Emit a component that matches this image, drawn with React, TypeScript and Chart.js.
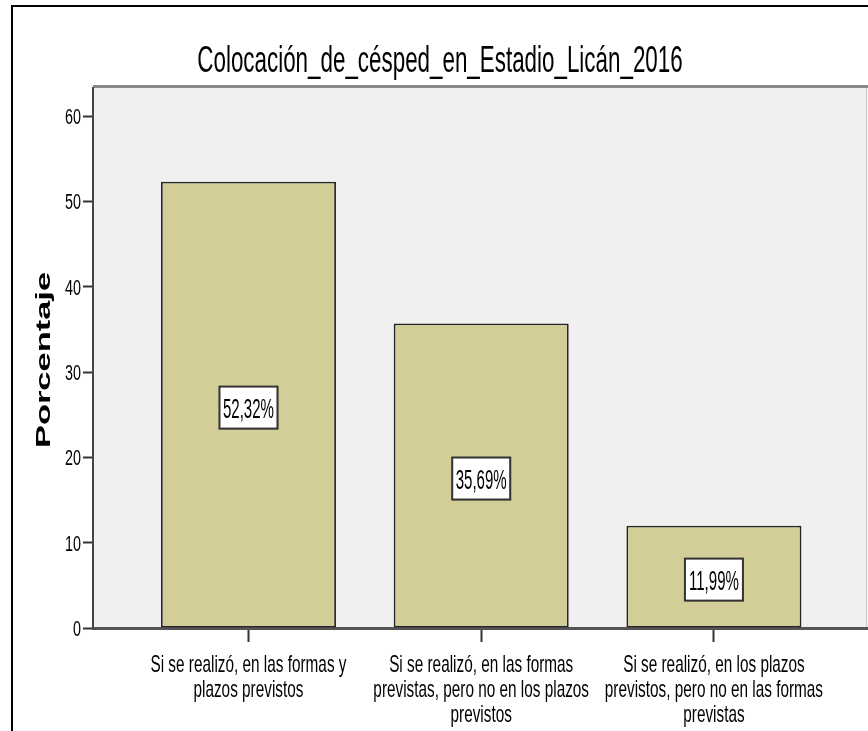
import React, { useEffect, useRef } from "react";
import { Chart, registerables } from "chart.js";

Chart.register(...registerables);

const TITLE = "Colocación_de_césped_en_Estadio_Licán_2016";
const Y_TITLE = "Porcentaje";
const CATEGORIES: string[][] = [
  ["Si se realizó, en las formas y", "plazos previstos"],
  ["Si se realizó, en las formas", "previstas, pero no en los plazos", "previstos"],
  ["Si se realizó, en los plazos", "previstos, pero no en las formas", "previstas"],
];
const CATEGORY_POS = [1, 2, 3];
const VALUES = [52.32, 35.69, 11.99];
const VALUE_LABELS = ["52,32%", "35,69%", "11,99%"];
const Y_TICKS = [0, 10, 20, 30, 40, 50, 60];
const Y_MAX = 63.3;
const X_MIN = 0.332;
const X_MAX = 3.662;

const SANS = '"Liberation Sans", Arial, sans-serif';

function drawScaled(
  ctx: CanvasRenderingContext2D,
  text: string,
  x: number,
  y: number,
  font: string,
  sx: number,
  sy: number,
  align: CanvasTextAlign,
  rotate = 0
) {
  ctx.save();
  ctx.translate(x, y);
  if (rotate) ctx.rotate(rotate);
  ctx.scale(sx, sy);
  ctx.font = font;
  ctx.textAlign = align;
  ctx.textBaseline = "alphabetic";
  ctx.fillStyle = "#000";
  ctx.fillText(text, 0, 0);
  ctx.restore();
}

const decor = {
  id: "decor",
  beforeDraw(chart: any) {
    const { ctx, chartArea: a, width, height } = chart;
    ctx.save();
    ctx.fillStyle = "#ffffff";
    ctx.fillRect(0, 0, width, height);
    ctx.fillStyle = "#F0F0F0";
    ctx.fillRect(a.left, a.top, a.right - a.left, a.bottom - a.top);
    // outer frame
    ctx.strokeStyle = "#000";
    ctx.lineWidth = 2;
    ctx.beginPath();
    ctx.moveTo(12, height);
    ctx.lineTo(12, 6);
    ctx.lineTo(width, 6);
    ctx.stroke();
    // plot top border
    ctx.strokeStyle = "#8a8a8a";
    ctx.lineWidth = 3;
    ctx.beginPath();
    ctx.moveTo(a.left, a.top - 1.5);
    ctx.lineTo(a.right, a.top - 1.5);
    ctx.stroke();
    ctx.strokeStyle = "#c8c8c8";
    ctx.lineWidth = 1;
    ctx.beginPath();
    ctx.moveTo(a.right - 1.5, a.top);
    ctx.lineTo(a.right - 1.5, a.bottom);
    ctx.stroke();
    ctx.restore();
    // title
    drawScaled(ctx, TITLE, 440, 72, `27px ${SANS}`, 0.829, 1.4, "center");
    // y title
    drawScaled(ctx, Y_TITLE, 50, 360, `bold 21px ${SANS}`, 1.64, 1.0, "center", -Math.PI / 2);
  },
  afterDatasetsDraw(chart: any) {
    const { ctx } = chart;
    const meta = chart.getDatasetMeta(0);
    meta.data.forEach((bar: any, i: number) => {
      const { x, y, base } = bar.getProps(["x", "y", "base"], true);
      const cy = (y + base) / 2 + 3;
      const w = 58;
      const h = 42;
      ctx.save();
      ctx.fillStyle = "rgba(0,0,0,0.25)";
      ctx.fillRect(x - w / 2 + 1, cy - h / 2 + 1, w, h);
      ctx.fillStyle = "#ffffff";
      ctx.fillRect(x - w / 2, cy - h / 2, w, h);
      ctx.strokeStyle = "#333";
      ctx.lineWidth = 2;
      ctx.strokeRect(x - w / 2, cy - h / 2, w, h);
      ctx.restore();
      drawScaled(ctx, VALUE_LABELS[i], x, cy + 10, `18px ${SANS}`, 0.836, 1.55, "center");
    });
  },
  afterDraw(chart: any) {
    const { ctx } = chart;
    const xs = chart.scales.x;
    const ys = chart.scales.y;
    // category labels
    CATEGORY_POS.forEach((p, i) => {
      const px = xs.getPixelForValue(p);
      CATEGORIES[i].forEach((line, j) => {
        drawScaled(ctx, line, px, xs.top + 44 + j * 25, `18px ${SANS}`, 0.852, 1.3, "center");
      });
    });
    // y tick labels
    Y_TICKS.forEach((v) => {
      const py = ys.getPixelForValue(v);
      drawScaled(ctx, String(v), 81, py + 8, `17px ${SANS}`, 0.846, 1.31, "right");
    });
  },
};

export default function App() {
  const ref = useRef<HTMLCanvasElement | null>(null);
  useEffect(() => {
    if (!ref.current) return;
    const chart = new Chart(ref.current, {
      type: "bar",
      data: {
        datasets: [
          {
            data: CATEGORY_POS.map((p, i) => ({ x: p, y: VALUES[i] })),
            backgroundColor: "#D3CE97",
            borderColor: "#262626",
            borderWidth: 1.8,
            borderSkipped: false,
            categoryPercentage: 1,
            barPercentage: 0.752,
          },
        ],
      },
      options: {
        animation: false,
        responsive: false,
        devicePixelRatio: 1,
        layout: { padding: { top: 88, left: 0, right: 0, bottom: 0 } },
        plugins: {
          legend: { display: false },
          tooltip: { enabled: false },
          title: { display: false },
        },
        scales: {
          x: {
            type: "linear",
            min: X_MIN,
            max: X_MAX,
            offset: false,
            afterBuildTicks: (s: any) => {
              s.ticks = CATEGORY_POS.map((v) => ({ value: v }));
            },
            afterFit: (s: any) => {
              s.height = 103;
            },
            ticks: { display: false },
            grid: {
              offset: false,
              drawOnChartArea: false,
              drawTicks: true,
              tickLength: 14,
              tickColor: "#333",
              tickWidth: 2,
            },
            border: { display: true, color: "#555", width: 3 },
          },
          y: {
            type: "linear",
            min: 0,
            max: Y_MAX,
            afterBuildTicks: (s: any) => {
              s.ticks = Y_TICKS.map((v) => ({ value: v }));
            },
            afterFit: (s: any) => {
              s.width = 93;
            },
            ticks: { display: false },
            grid: {
              drawOnChartArea: false,
              drawTicks: true,
              tickLength: 10,
              tickColor: "#333",
              tickWidth: 2,
            },
            border: { display: true, color: "#444", width: 2 },
          },
        },
      },
      plugins: [decor],
    } as any);
    return () => chart.destroy();
  }, []);
  return (
    <div style={{ position: "absolute", left: 0, top: 0, width: 868, height: 731 }}>
      <canvas ref={ref} width={868} height={731} style={{ display: "block" }} />
    </div>
  );
}
